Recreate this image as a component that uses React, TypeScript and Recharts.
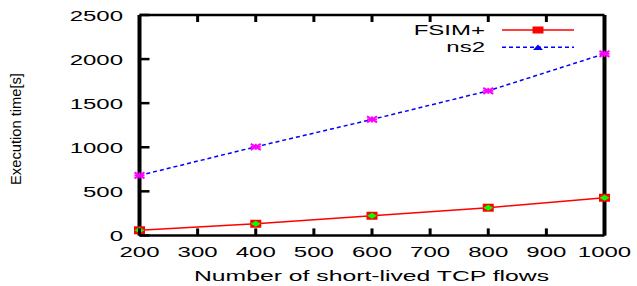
import React from "react";
import { LineChart, Line, XAxis, YAxis } from "recharts";

const flows = [200, 400, 600, 800, 1000];
const fsimValues = [58, 132, 223, 314, 427];
const ns2Values = [680, 1005, 1315, 1640, 2060];
const xTicks = [200, 300, 400, 500, 600, 700, 800, 900, 1000];
const yTicks = [0, 500, 1000, 1500, 2000, 2500];
const seriesNames = ["FSIM+", "ns2"];
const xTitle = "Number of short-lived TCP flows";
const yTitle = "Execution time[s]";

const data = flows.map((f, i) => ({ x: f, fsim: fsimValues[i], ns2: ns2Values[i] }));

const FONT = "'Liberation Sans', Arial, sans-serif";
const FS = 15;
const SX = 1.6;

const BottomTick = (props: any) => {
  const { x, y, payload } = props;
  return (
    <g>
      <line x1={x} x2={x} y1={y} y2={y - 7} stroke="#000" strokeWidth={3} />
      <text
        transform={`translate(${x},${y + 21.5}) scale(${SX},1)`}
        textAnchor="middle"
        fontFamily={FONT}
        fontSize={FS}
        fill="#000"
      >
        {payload.value}
      </text>
    </g>
  );
};

const TopTick = (props: any) => {
  const { x, y } = props;
  return <line x1={x} x2={x} y1={y} y2={y + 7} stroke="#000" strokeWidth={3} />;
};

const LeftTick = (props: any) => {
  const { x, y, payload } = props;
  return (
    <g>
      <line x1={x} x2={x + 10} y1={y} y2={y} stroke="#000" strokeWidth={2.5} />
      <text
        transform={`translate(${x - 16.5},${y + 5.5}) scale(${SX},1)`}
        textAnchor="end"
        fontFamily={FONT}
        fontSize={FS}
        fill="#000"
      >
        {payload.value}
      </text>
    </g>
  );
};

const RightTick = (props: any) => {
  const { x, y } = props;
  return <line x1={x} x2={x - 10} y1={y} y2={y} stroke="#000" strokeWidth={2.5} />;
};

const FsimDot = (props: any) => {
  const { cx, cy } = props;
  return (
    <g>
      <rect x={cx - 5.5} y={cy - 4} width={11} height={8} fill="#ff0000" />
      <polygon
        points={`${cx - 5},${cy} ${cx},${cy - 3} ${cx + 5},${cy} ${cx},${cy + 3}`}
        fill="#00ff00"
      />
    </g>
  );
};

const Ns2Dot = (props: any) => {
  const { cx, cy } = props;
  return (
    <g stroke="#ff00ff" strokeWidth={2}>
      <line x1={cx - 5} x2={cx + 5} y1={cy - 3} y2={cy + 3} />
      <line x1={cx - 5} x2={cx + 5} y1={cy + 3} y2={cy - 3} />
      <line x1={cx - 5} x2={cx + 5} y1={cy} y2={cy} />
      <line x1={cx} x2={cx} y1={cy - 3} y2={cy + 3} />
    </g>
  );
};

export default function App() {
  return (
    <div style={{ position: "absolute", left: 0, top: 0, width: 637, height: 286, background: "#fff" }}>
      <LineChart
        width={637}
        height={286}
        data={data}
        margin={{ top: 14, left: 138.5, right: 31.5, bottom: 49.6 }}
      >
        <XAxis
          xAxisId="b"
          dataKey="x"
          type="number"
          domain={[200, 1000]}
          ticks={xTicks}
          orientation="bottom"
          height={1}
          tickSize={0}
          tickMargin={0}
          tickLine={false}
          axisLine={{ stroke: "#000", strokeWidth: 2.5 }}
          tick={<BottomTick />}
          interval={0}
        />
        <XAxis
          xAxisId="t"
          dataKey="x"
          type="number"
          domain={[200, 1000]}
          ticks={xTicks}
          orientation="top"
          height={1}
          tickSize={0}
          tickMargin={0}
          tickLine={false}
          axisLine={{ stroke: "#000", strokeWidth: 2.5 }}
          tick={<TopTick />}
          interval={0}
        />
        <YAxis
          yAxisId="l"
          type="number"
          domain={[0, 2500]}
          ticks={yTicks}
          orientation="left"
          width={1}
          tickSize={0}
          tickMargin={0}
          tickLine={false}
          axisLine={{ stroke: "#000", strokeWidth: 4 }}
          tick={<LeftTick />}
          interval={0}
        />
        <YAxis
          yAxisId="r"
          type="number"
          domain={[0, 2500]}
          ticks={yTicks}
          orientation="right"
          width={1}
          tickSize={0}
          tickMargin={0}
          tickLine={false}
          axisLine={{ stroke: "#000", strokeWidth: 4 }}
          tick={<RightTick />}
          interval={0}
        />
        <Line
          xAxisId="b"
          yAxisId="l"
          type="linear"
          dataKey="ns2"
          stroke="#0000ff"
          strokeWidth={1.5}
          strokeDasharray="4 3"
          dot={(p: any) => <Ns2Dot {...p} key={`n${p.index}`} />}
          isAnimationActive={false}
        />
        <Line
          xAxisId="b"
          yAxisId="l"
          type="linear"
          dataKey="fsim"
          stroke="#ff0000"
          strokeWidth={1.5}
          dot={(p: any) => <FsimDot {...p} key={`f${p.index}`} />}
          isAnimationActive={false}
        />
      </LineChart>
      <svg
        width={637}
        height={286}
        style={{ position: "absolute", left: 0, top: 0, pointerEvents: "none" }}
      >
        <text
          transform={`translate(485,35) scale(${SX},1)`}
          textAnchor="end"
          fontFamily={FONT}
          fontSize={FS}
          fill="#000"
        >
          {seriesNames[0]}
        </text>
        <line x1={502} x2={574} y1={30} y2={30} stroke="#ff0000" strokeWidth={1.5} />
        <rect x={532.5} y={26.5} width={11} height={7} fill="#ff0000" />
        <text
          transform={`translate(485,51.5) scale(${SX},1)`}
          textAnchor="end"
          fontFamily={FONT}
          fontSize={FS}
          fill="#000"
        >
          {seriesNames[1]}
        </text>
        <line
          x1={502}
          x2={574}
          y1={47.3}
          y2={47.3}
          stroke="#0000ff"
          strokeWidth={1.5}
          strokeDasharray="4 3"
        />
        <polygon points="533,50 538,44.5 543,50" fill="#0000ff" />
        <text
          transform={`translate(371.5,280.7) scale(1.65,1)`}
          textAnchor="middle"
          fontFamily={FONT}
          fontSize={FS}
          fill="#000"
        >
          {xTitle}
        </text>
        <text
          transform={`translate(21,129) rotate(-90) scale(0.98,1)`}
          textAnchor="middle"
          fontFamily={FONT}
          fontSize={15}
          fill="#000"
        >
          {yTitle}
        </text>
      </svg>
    </div>
  );
}
